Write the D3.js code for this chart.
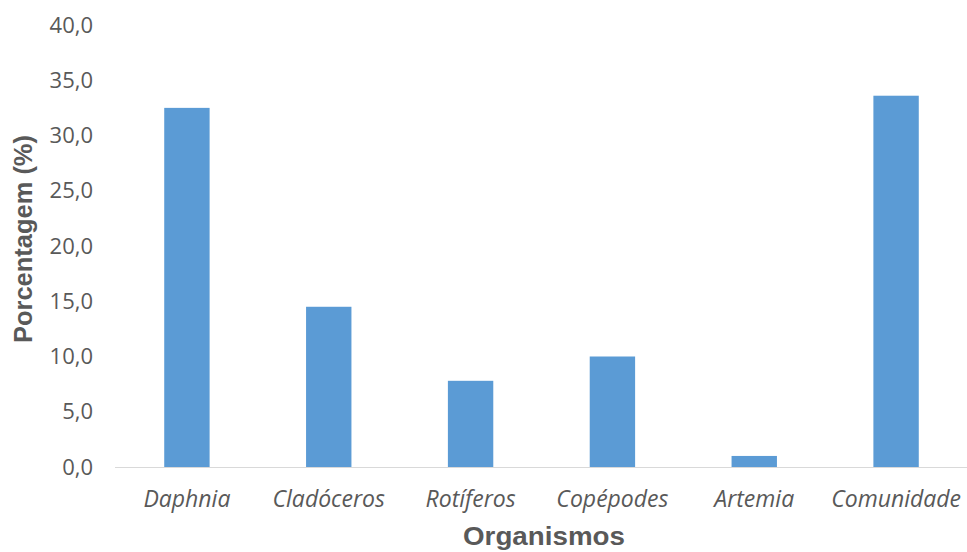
<!DOCTYPE html>
<html><head><meta charset="utf-8">
<script src="https://cdn.jsdelivr.net/npm/d3@7"></script>
<style>body{margin:0;background:#fff}</style>
</head><body>
<svg id="c" width="967" height="552"></svg>
<script>
const categories = ["Daphnia","Cladóceros","Rotíferos","Copépodes","Artemia","Comunidade"];
const values = [32.5, 14.5, 7.8, 10.0, 1.0, 33.6];
const yTicks = [0,5,10,15,20,25,30,35,40];

const svg = d3.select("#c");
const x = d3.scaleBand().domain(categories).range([116, 967]).paddingInner(0.68).paddingOuter(0.34);
const y = d3.scaleLinear().domain([0,40]).range([467, 25]);
const fmt = v => v.toFixed(1).replace(".", ",");

svg.selectAll("rect.bar").data(values).join("rect")
  .attr("class","bar")
  .attr("x",(d,i)=>x(categories[i]))
  .attr("width",x.bandwidth())
  .attr("y",d=>y(d))
  .attr("height",d=>y(0)-y(d))
  .attr("fill","#5B9BD5");

svg.append("line").attr("x1",115).attr("x2",967).attr("y1",y(0)+0.5).attr("y2",y(0)+0.5)
  .attr("stroke","#D9D9D9").attr("stroke-width",1);

const yAxis = svg.append("g").attr("transform","translate(93,0)")
  .call(d3.axisLeft(y).tickValues(yTicks).tickFormat(fmt).tickSize(0).tickPadding(0));
yAxis.select(".domain").remove();
yAxis.selectAll("text").attr("font-family","'Open Sans', sans-serif").attr("font-size",22).attr("fill","#595959");

const xAxis = svg.append("g").attr("transform",`translate(0,${y(0)})`)
  .call(d3.axisBottom(x).tickSize(0).tickPadding(0));
xAxis.select(".domain").remove();
xAxis.selectAll("text").attr("font-family","'Open Sans', sans-serif").attr("font-size",23)
  .attr("font-style","italic").attr("fill","#595959").attr("dy",null).attr("y",40);

svg.append("text").attr("x",544).attr("y",545).attr("text-anchor","middle")
  .attr("font-family","'Liberation Sans', Arial, sans-serif").attr("font-weight","bold")
  .attr("font-size",26).attr("textLength",162).attr("lengthAdjust","spacingAndGlyphs")
  .attr("fill","#595959").text("Organismos");

svg.append("text").attr("transform","translate(32,239) rotate(-90)").attr("text-anchor","middle")
  .attr("font-family","'Liberation Sans', Arial, sans-serif").attr("font-weight","bold")
  .attr("font-size",25).attr("textLength",208).attr("lengthAdjust","spacingAndGlyphs")
  .attr("fill","#595959").text("Porcentagem (%)");
</script>
</body></html>
